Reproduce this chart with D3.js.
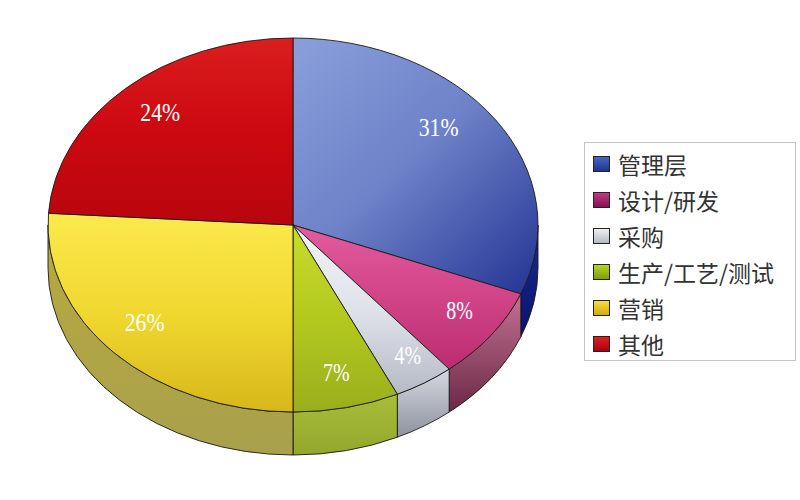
<!DOCTYPE html>
<html><head><meta charset="utf-8">
<script src="https://cdn.jsdelivr.net/npm/d3@7"></script>
<style>body{margin:0;background:#fff}svg{display:block}</style>
</head><body>
<script>
// ---- data ----
const categories = ["管理层", "设计/研发", "采购", "生产/工艺/测试", "营销", "其他"];
const values = [31, 8, 4, 7, 26, 24];

// ---- style ----
const topColors = [
  ["#8a9fda", "#6d82c8", "#2a3b98"],
  ["#e25c9c", "#d24488", "#bb2c70"],
  ["#f2f3f7", "#dfe2ea", "#b6bac6"],
  ["#c8dc2a", "#b3c91f", "#99ae1c"],
  ["#fbe94c", "#f1d830", "#d7b71a"],
  ["#da1e1e", "#cc0810", "#b8060e"]
];
const sideColors = [
  ["#1c2a92", "#0a136c"],
  ["#c47294", "#6c2846"],
  ["#d6d9e1", "#8e929e"],
  ["#a9bd3a", "#93a72c"],
  ["#b8aa3e", "#a9a04c"],
  ["#b00810", "#800008"]
];
const swatchColors = [
  ["#4a68c0", "#1a3590"],
  ["#c03c84", "#8a0c52"],
  ["#f0f2f4", "#b4b8c0"],
  ["#b8d820", "#7a9a10"],
  ["#f8e040", "#d0a810"],
  ["#e02020", "#a80010"]
];
const labelRadius = [0.79, 0.82, 0.84, 0.81, 0.80, 0.81];
const labelShiftDeg = [-7, -2, -1.5, 0, 2.4, 1.2];

const W = 800, H = 500;
const cx = 293, cy = 225, rx = 245, ry = 187, depth = 43;

const svg = d3.select("body").append("svg").attr("width", W).attr("height", H);
const defs = svg.append("defs");

const pie = d3.pie().sort(null).value(d => d)(values);

function pt(a, yOff = 0) { return [cx + rx * Math.sin(a), cy - ry * Math.cos(a) + yOff]; }

// gradients
topColors.forEach((c, i) => {
  const diag = i === 0;
  const g = defs.append("linearGradient").attr("id", "top" + i)
    .attr("x1", 0).attr("y1", 0).attr("x2", diag ? 0.9 : 0).attr("y2", 1);
  g.append("stop").attr("offset", 0).attr("stop-color", c[0]);
  g.append("stop").attr("offset", 0.5).attr("stop-color", c[1]);
  g.append("stop").attr("offset", 1).attr("stop-color", c[2]);
});
sideColors.forEach((c, i) => {
  const g = defs.append("linearGradient").attr("id", "side" + i)
    .attr("x1", 0).attr("y1", 0).attr("x2", 0).attr("y2", 1);
  g.append("stop").attr("offset", 0).attr("stop-color", c[0]);
  g.append("stop").attr("offset", 1).attr("stop-color", c[1]);
});
swatchColors.forEach((c, i) => {
  const g = defs.append("linearGradient").attr("id", "sw" + i)
    .attr("x1", 0).attr("y1", 0).attr("x2", 0).attr("y2", 1);
  g.append("stop").attr("offset", 0).attr("stop-color", c[0]);
  g.append("stop").attr("offset", 1).attr("stop-color", c[1]);
});

// sides (visible between PI/2 and 3PI/2)
const sideG = svg.append("g");
pie.forEach((d, i) => {
  const s0 = Math.max(d.startAngle, Math.PI / 2);
  const s1 = Math.min(d.endAngle, 3 * Math.PI / 2);
  if (s1 <= s0) return;
  const p0 = pt(s0), p1 = pt(s1), q1 = pt(s1, depth), q0 = pt(s0, depth);
  const path = `M${p0}A${rx},${ry} 0 0 1 ${p1}L${q1}A${rx},${ry} 0 0 0 ${q0}Z`;
  sideG.append("path").attr("d", path).attr("fill", `url(#side${i})`)
    .attr("stroke", "#1a1a1a").attr("stroke-width", 0.9).attr("stroke-linejoin", "round");
});

// tops
const topG = svg.append("g");
pie.forEach((d, i) => {
  const p0 = pt(d.startAngle), p1 = pt(d.endAngle);
  const large = (d.endAngle - d.startAngle) > Math.PI ? 1 : 0;
  const path = `M${cx},${cy}L${p0}A${rx},${ry} 0 ${large} 1 ${p1}Z`;
  topG.append("path").attr("d", path).attr("fill", `url(#top${i})`)
    .attr("stroke", "#1a1a1a").attr("stroke-width", 0.9).attr("stroke-linejoin", "round");
});

// labels
const labG = svg.append("g");
pie.forEach((d, i) => {
  const m = (d.startAngle + d.endAngle) / 2 + labelShiftDeg[i] * Math.PI / 180;
  const f = labelRadius[i];
  const txt = values[i] + "%";
  labG.append("text")
    .attr("x", cx + rx * f * Math.sin(m))
    .attr("y", cy - ry * f * Math.cos(m))
    .attr("text-anchor", "middle").attr("dominant-baseline", "central")
    .attr("font-family", "'Liberation Serif', 'DejaVu Serif', serif")
    .attr("font-size", 26).attr("fill", "#fff")
    .attr("textLength", txt.length * 13.3).attr("lengthAdjust", "spacingAndGlyphs")
    .text(txt);
});

// legend
const lg = svg.append("g");
lg.append("rect").attr("x", 584.5).attr("y", 142.5).attr("width", 211).attr("height", 218)
  .attr("fill", "#fff").attr("stroke", "#c4c4c4").attr("stroke-width", 1);
const ly = d3.scalePoint().domain(categories).range([164, 344]);
categories.forEach((c, i) => {
  const y = ly(c);
  lg.append("rect").attr("x", 593.5).attr("y", y - 7.5).attr("width", 16).attr("height", 15)
    .attr("fill", `url(#sw${i})`).attr("stroke", "#222").attr("stroke-width", 1);
  lg.append("text").attr("x", 618).attr("y", y).attr("dominant-baseline", "central")
    .attr("font-family", "'Noto Sans CJK SC', sans-serif").attr("font-size", 23)
    .attr("fill", "#333").text(c);
});
</script>
</body></html>
